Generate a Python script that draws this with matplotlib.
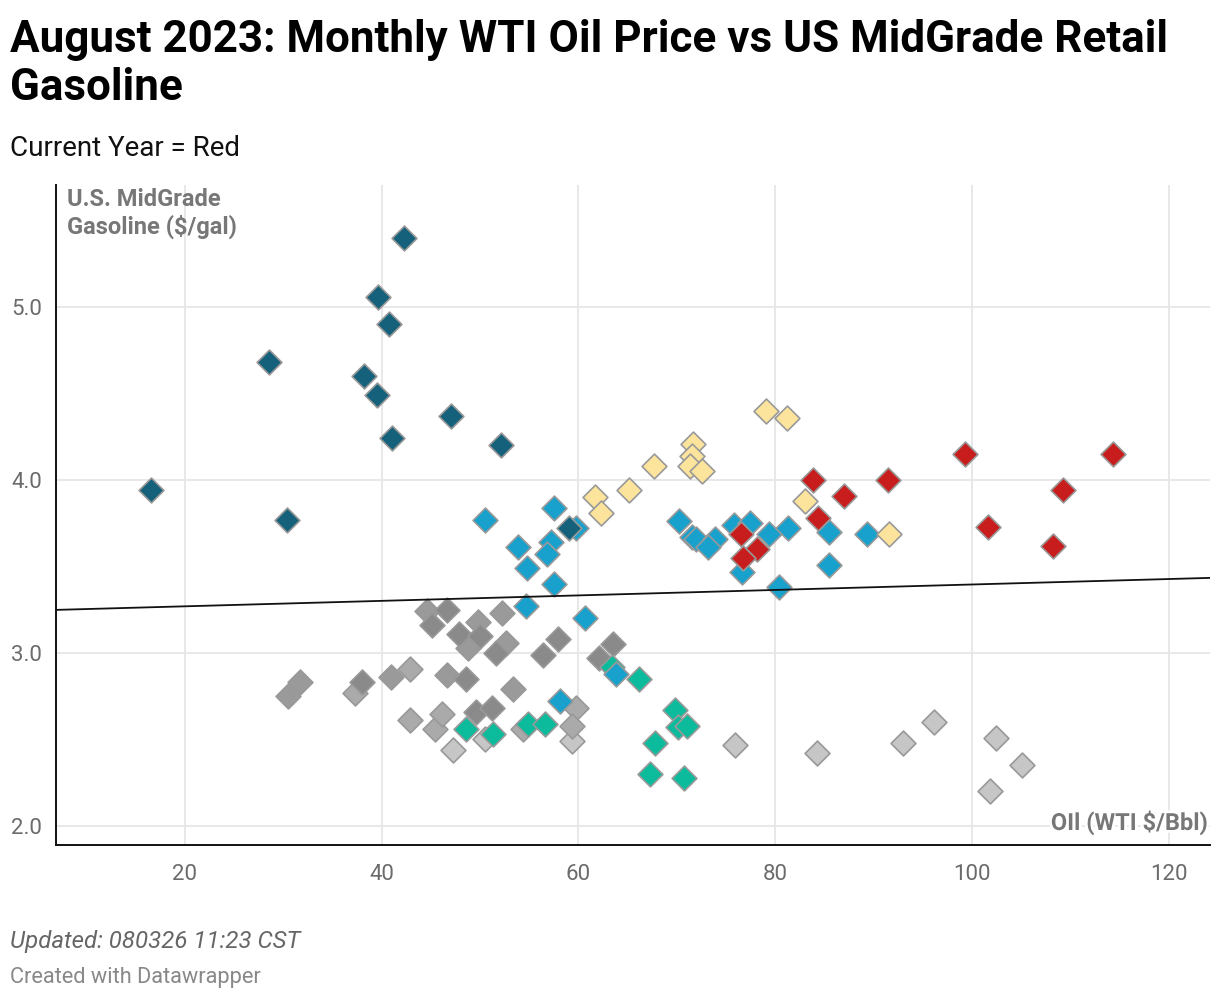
import matplotlib
matplotlib.use("Agg")
import matplotlib.pyplot as plt
from matplotlib.path import Path
import matplotlib.patheffects as pe

plt.rcParams['font.family'] = ['Roboto', 'DejaVu Sans']

# ---- data (WTI $/bbl, MidGrade $/gal) ----
gray_dark_x = [46.6, 45.1, 47.9, 50.0, 51.6, 57.9, 56.4, 63.5, 62.1, 48.6, 49.6, 51.2, 38.0]
gray_dark_y = [3.25, 3.16, 3.11, 3.10, 3.00, 3.08, 2.99, 3.05, 2.97, 2.85, 2.66, 2.68, 2.83]
gray_mid_x = [44.6, 49.8, 48.8, 52.2, 52.6, 31.7, 30.5, 41.0, 46.6, 53.4]
gray_mid_y = [3.24, 3.18, 3.03, 3.23, 3.06, 2.83, 2.75, 2.86, 2.87, 2.79]
gray_light_x = [37.3, 42.9, 42.9, 45.4, 46.1, 54.4, 59.8, 59.4]
gray_light_y = [2.77, 2.91, 2.61, 2.56, 2.65, 2.56, 2.68, 2.58]
gray_pale_x = [47.3, 50.5, 59.3, 75.9, 84.3, 93.0, 96.1, 102.4, 105.1, 101.8]
gray_pale_y = [2.44, 2.50, 2.49, 2.47, 2.42, 2.48, 2.60, 2.51, 2.35, 2.20]

teal_x = [63.4, 66.2, 69.8, 70.1, 71.0, 67.8, 67.3, 70.7, 54.9, 56.6, 51.3, 48.6]
teal_y = [2.92, 2.85, 2.67, 2.57, 2.58, 2.48, 2.30, 2.28, 2.59, 2.59, 2.53, 2.56]

red_x = [76.5, 78.2, 76.7, 83.8, 87.0, 84.4, 91.5, 99.3, 101.6, 108.2, 109.3, 114.3]
red_y = [3.69, 3.60, 3.55, 4.00, 3.91, 3.78, 4.00, 4.15, 3.73, 3.62, 3.94, 4.15]

blue_x = [50.5, 57.5, 59.8, 53.9, 57.2, 56.8, 54.8, 57.5, 54.7, 60.7, 63.8, 58.1,
          70.2, 71.5, 72.0, 73.9, 73.2, 75.8, 77.4, 79.4, 81.3, 76.6, 80.4, 85.5, 85.5, 89.3]
blue_y = [3.77, 3.84, 3.72, 3.61, 3.64, 3.57, 3.49, 3.40, 3.27, 3.20, 2.88, 2.72,
          3.76, 3.67, 3.66, 3.66, 3.61, 3.74, 3.75, 3.69, 3.72, 3.47, 3.38, 3.70, 3.51, 3.69]

yellow_x = [71.6, 71.5, 71.3, 72.6, 67.7, 65.1, 61.7, 62.3, 79.1, 81.2, 83.0, 91.6]
yellow_y = [4.21, 4.14, 4.08, 4.05, 4.08, 3.94, 3.90, 3.81, 4.40, 4.36, 3.88, 3.69]

navy_x = [42.3, 39.6, 40.7, 28.5, 38.2, 39.5, 47.0, 41.1, 52.1, 16.6, 30.4, 59.0]
navy_y = [5.40, 5.06, 4.90, 4.68, 4.60, 4.49, 4.37, 4.24, 4.20, 3.94, 3.77, 3.72]

trend_x = [6.9, 124.2]
trend_y = [3.249, 3.434]

x_ticks = [20, 40, 60, 80, 100, 120]
y_ticks = [2.0, 3.0, 4.0, 5.0]

# ---- figure ----
W, H = 1220, 1000
fig = plt.figure(figsize=(W / 100, H / 100), dpi=100)
ax = fig.add_axes([56 / W, 1 - 845 / H, (1210 - 56) / W, (845 - 185) / H])
ax.set_xlim(6.9, 124.2)
ax.set_ylim(1.89, 5.705)

diamond = Path([(0, 1), (1, 0), (0, -1), (-1, 0), (0, 1)],
               [Path.MOVETO, Path.LINETO, Path.LINETO, Path.LINETO, Path.CLOSEPOLY])

groups = [
    (gray_pale_x, gray_pale_y, '#c6c6c6'),
    (gray_light_x, gray_light_y, '#aaaaaa'),
    (gray_mid_x, gray_mid_y, '#9a9a9a'),
    (gray_dark_x, gray_dark_y, '#8a8a8a'),
    (teal_x, teal_y, '#0cbb9c'),
    (blue_x, blue_y, '#18a1cd'),
    (red_x, red_y, '#c71e1d'),
    (yellow_x, yellow_y, '#fde49c'),
    (navy_x, navy_y, '#15607a'),
]
for gx, gy, c in groups:
    ax.scatter(gx, gy, s=320, marker=diamond, facecolor=c, edgecolor='#999999',
               linewidth=1.2, zorder=3)

ax.plot(trend_x, trend_y, color='#111111', lw=1.3, zorder=4)

ax.set_xticks(x_ticks)
ax.set_yticks(y_ticks)
ax.set_xticklabels([str(t) for t in x_ticks])
ax.set_yticklabels([f"{t:.1f}" for t in y_ticks])
ax.tick_params(axis='both', length=0, labelsize=16, labelcolor='#6b6b6b')
ax.tick_params(axis='x', pad=14)
ax.tick_params(axis='y', pad=10)
ax.grid(True, color='#e6e6e6', lw=1.3, zorder=0)
ax.set_axisbelow(True)
for s in ['top', 'right']:
    ax.spines[s].set_visible(False)
for s in ['left', 'bottom']:
    ax.spines[s].set_color('#111111')
    ax.spines[s].set_linewidth(1.4)

ax.text(67 / W, 1 - 234 / H, "U.S. MidGrade\nGasoline ($/gal)", transform=fig.transFigure,
        fontsize=17, fontweight='bold', color='#777777', va='baseline', ha='left',
        linespacing=1.2)
ax.text(1208 / W, 1 - 830 / H, "OIl (WTI $/Bbl)", transform=fig.transFigure,
        fontsize=17, fontweight='bold', color='#777777', va='baseline', ha='right',
        path_effects=[pe.withStroke(linewidth=4, foreground='white')], zorder=5)

fig.text(10 / W, 1 - 52 / H, "August 2023: Monthly WTI Oil Price vs US MidGrade Retail",
         fontsize=31.7, fontweight='bold', color='#000000', va='baseline', ha='left')
fig.text(10 / W, 1 - 100 / H, "Gasoline",
         fontsize=31.7, fontweight='bold', color='#000000', va='baseline', ha='left')
fig.text(10 / W, 1 - 156 / H, "Current Year = Red",
         fontsize=20, color='#111111', va='baseline', ha='left')
fig.text(10 / W, 1 - 948 / H, "Updated: 080326 11:23 CST",
         fontsize=17.3, style='italic', color='#666666', va='baseline', ha='left')
fig.text(10 / W, 1 - 983 / H, "Created with Datawrapper",
         fontsize=15.7, color='#888888', va='baseline', ha='left')

fig.savefig("out.png", dpi=100, facecolor='white')
